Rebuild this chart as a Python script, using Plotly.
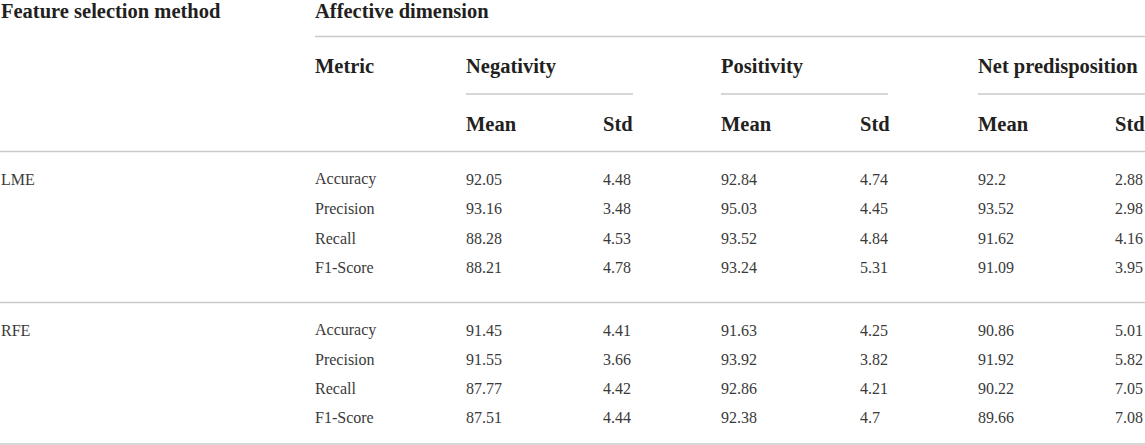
import plotly.graph_objects as go

# table content
methods = ["LME", "RFE"]
metrics = ["Accuracy", "Precision", "Recall", "F1-Score"]
dimensions = ["Negativity", "Positivity", "Net predisposition"]

lme_neg_mean = ["92.05", "93.16", "88.28", "88.21"]
lme_neg_std = ["4.48", "3.48", "4.53", "4.78"]
lme_pos_mean = ["92.84", "95.03", "93.52", "93.24"]
lme_pos_std = ["4.74", "4.45", "4.84", "5.31"]
lme_net_mean = ["92.2", "93.52", "91.62", "91.09"]
lme_net_std = ["2.88", "2.98", "4.16", "3.95"]

rfe_neg_mean = ["91.45", "91.55", "87.77", "87.51"]
rfe_neg_std = ["4.41", "3.66", "4.42", "4.44"]
rfe_pos_mean = ["91.63", "93.92", "92.86", "92.38"]
rfe_pos_std = ["4.25", "3.82", "4.21", "4.7"]
rfe_net_mean = ["90.86", "91.92", "90.22", "89.66"]
rfe_net_std = ["5.01", "5.82", "7.05", "7.08"]

W, H = 1145, 445
serif = "Liberation Serif"
head_font = dict(family=serif, size=20.5, color="#231f20", weight="bold")
body_font = dict(family=serif, size=16, color="#3a3a3a")
rule_color = "#c9c9c9"

# layout grid (pixels)
x_method = 0
x_metric = 314
x_mean = [465, 720, 977]
x_std = [602, 859, 1114]
x_group_end = [633, 888, 1145]
y_head1, y_head2, y_head3 = 11, 66, 124
y_rows = {"LME": [179, 208, 238, 267], "RFE": [330, 359, 388, 417]}

fig = go.Figure()
# invisible trace so the axes exist
fig.add_trace(go.Scatter(x=[0, W], y=[0, H], mode="markers",
                         marker=dict(opacity=0), hoverinfo="skip", showlegend=False))


def txt(x, y, s, font):
    fig.add_annotation(x=x, y=y, text=s, showarrow=False, xanchor="left",
                       yanchor="middle", font=font, xref="x", yref="y",
                       borderpad=0)


def rule(x0, x1, y):
    fig.add_shape(type="line", x0=x0, x1=x1, y0=y, y1=y, xref="x", yref="y",
                  line=dict(color=rule_color, width=1.5))


txt(x_method, y_head1, "Feature selection method", head_font)
txt(x_metric, y_head1, "Affective dimension", head_font)
rule(x_metric + 1, W, 36.5)
txt(x_metric, y_head2, "Metric", head_font)
for i, d in enumerate(dimensions):
    txt(x_mean[i], y_head2, d, head_font)
    rule(x_mean[i] + 1, x_group_end[i], 94)
    txt(x_mean[i], y_head3, "Mean", head_font)
    txt(x_std[i], y_head3, "Std", head_font)
rule(0, W, 151.5)

data = {
    "LME": [lme_neg_mean, lme_neg_std, lme_pos_mean, lme_pos_std, lme_net_mean, lme_net_std],
    "RFE": [rfe_neg_mean, rfe_neg_std, rfe_pos_mean, rfe_pos_std, rfe_net_mean, rfe_net_std],
}

for m in methods:
    ys = y_rows[m]
    txt(x_method, ys[0], m, body_font)
    for r, metric in enumerate(metrics):
        txt(x_metric, ys[r], metric, body_font)
        cols = data[m]
        for i in range(3):
            txt(x_mean[i], ys[r], cols[2 * i][r], body_font)
            txt(x_std[i], ys[r], cols[2 * i + 1][r], body_font)

rule(0, W, 302.5)
rule(0, W, 444)

fig.update_xaxes(range=[0, W], visible=False, fixedrange=True)
fig.update_yaxes(range=[H, 0], visible=False, fixedrange=True)
fig.update_layout(width=W, height=H, margin=dict(l=0, r=0, t=0, b=0),
                  plot_bgcolor="white", paper_bgcolor="white", showlegend=False)

fig.write_html("out.html", config={"displayModeBar": False},
               post_script="document.body.style.margin='0px';")
